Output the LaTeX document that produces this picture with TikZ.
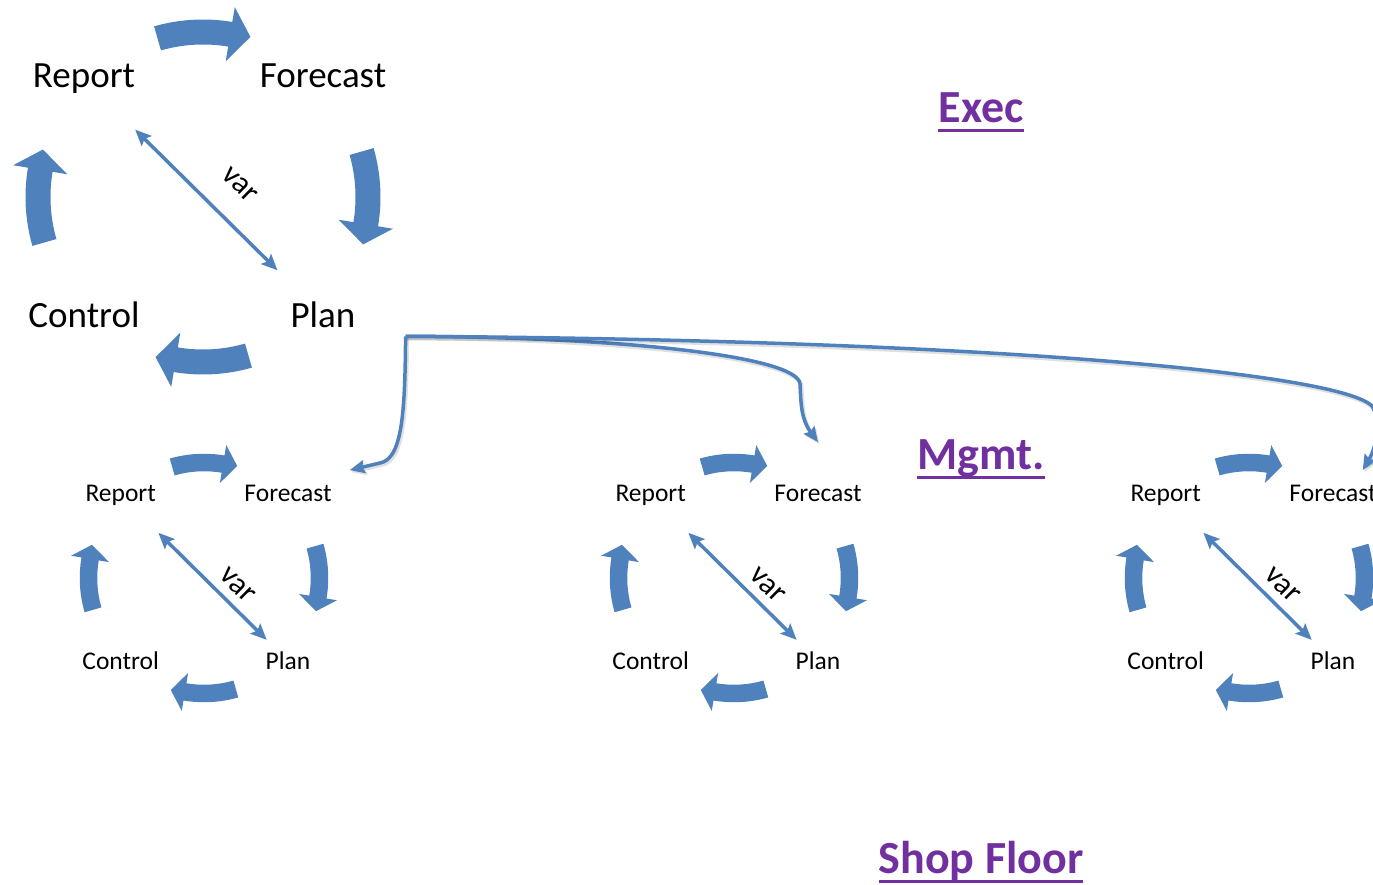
\documentclass[tikz,border=0pt]{standalone}
\usepackage{fontspec}
\setmainfont{Carlito}
\usetikzlibrary{arrows.meta}
\definecolor{cycblue}{HTML}{4F81BD}
\definecolor{lvlpurple}{HTML}{7030A0}
\tikzset{
  steplabel/.style={anchor=base, inner sep=0pt},
  turnarrow/.style={fill=cycblue},
  vararrow/.style={draw=cycblue, line width=3.5pt,
    {Stealth[length=16pt,width=14pt,inset=3pt]}-{Stealth[length=16pt,width=14pt,inset=3pt]}},
  varlabel/.style={font=\fontsize{31}{31}\selectfont, sloped, inner sep=0pt},
  feedline/.style={draw=cycblue, line width=3.5pt, -{Stealth[length=15pt,width=13pt,inset=2pt]},
    preaction={draw=black, opacity=0.12, line width=4pt, transform canvas={shift={(1.5pt,-2pt)}}}},
  leveltitle/.style={anchor=base, inner sep=0pt, text=lvlpurple,
    font=\fontsize{46}{46}\selectfont\bfseries}
}
% one plan-do cycle: #1 prefix, #2 centre, #3 scale, #4 font size
\newcommand{\pdcycle}[4]{%
\begin{scope}[shift={#2}]
\pgfmathsetmacro\ro{(165+12.5)*#3}
\pgfmathsetmacro\ri{(165-12.5)*#3}
\pgfmathsetmacro\rho{(165+27.5)*#3}
\pgfmathsetmacro\rhi{(165-27.5)*#3}
\pgfmathsetmacro\rt{(165+2)*#3}
\node[steplabel, font=\fontsize{#4}{#4}\selectfont] (#1report) at (-119*#3, 109*#3) {Report};
\node[steplabel, font=\fontsize{#4}{#4}\selectfont] (#1forecast) at (120*#3, 109*#3) {Forecast};
\node[steplabel, font=\fontsize{#4}{#4}\selectfont] (#1control) at (-119*#3, -131*#3) {Control};
\node[steplabel, font=\fontsize{#4}{#4}\selectfont] (#1plan) at (120*#3, -131*#3) {Plan};
% curved block arrows, clockwise
\foreach \ang in {90,0,-90,180}
  \fill[turnarrow] (\ang+16:\ro) arc[start angle=\ang+16, end angle=\ang-9.5, radius=\ro]
    -- (\ang-9.5:\rho) -- (\ang-16.5:\rt) -- (\ang-9.5:\rhi) -- (\ang-9.5:\ri)
    arc[start angle=\ang-9.5, end angle=\ang+16, radius=\ri] -- cycle;
\end{scope}}

\begin{document}
\begin{tikzpicture}[x=1pt,y=1pt]
\useasboundingbox (0,0) rectangle (1373,884);
\clip (0,0) rectangle (1373,884);
% Exec cycle
\pdcycle{big}{(203,687)}{1}{37}
% Mgmt. cycles
\pdcycle{sa}{(204,306)}{0.7}{25.5}
\pdcycle{sb}{(734,306)}{0.7}{25.5}
\pdcycle{sc}{(1249,306)}{0.7}{25.5}
% variance arrows
\draw[vararrow, shorten <=72pt, shorten >=64pt] (bigreport.center) -- node[varlabel, pos=0.55, above=25pt] {var} (bigplan.center);
\foreach \cyc in {sa,sb,sc}
  \draw[vararrow, shorten <=53pt, shorten >=30pt] (\cyc report.center) -- node[varlabel, pos=0.62, above=9pt] {var} (\cyc plan.center);
% level titles
\node[leveltitle] (exec) at (981,761) {Exec};
\node[leveltitle] (mgmt) at (981,414) {Mgmt.};
\node[leveltitle] (shopfloor) at (981,11) {Shop Floor};
\foreach \lvl in {exec,mgmt,shopfloor}
  \draw[lvlpurple, line width=3pt] ([yshift=-8pt]\lvl.base west) -- ([yshift=-8pt]\lvl.base east);
% plan hand-down
\coordinate (planout) at ([shift={(50,-21)}]bigplan.east);
\draw[feedline] (planout) .. controls (405,470) and (402,425) .. (380,421) -- ([shift={(18,15)}]saforecast.north east);
\draw[feedline] (planout) .. controls (620,547) and (798,528) .. (800,500) .. controls (801,480) and (801,465) .. ([yshift=43pt]sbforecast.north);
\draw[feedline] (planout) .. controls (1000,544) and (1340,510) .. (1372,478) .. controls (1380,465) and (1378,440) .. ([shift={(-14,15)}]scforecast.north east);
\end{tikzpicture}
\end{document}
